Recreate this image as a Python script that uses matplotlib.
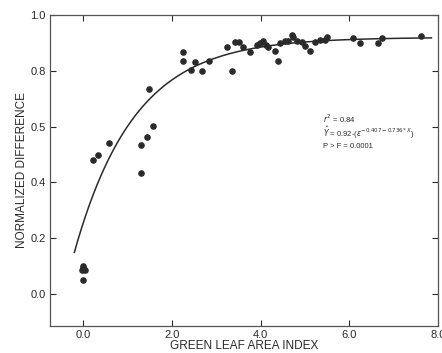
import numpy as np
import matplotlib.pyplot as plt

plt.rcParams['font.family'] = ['Liberation Sans', 'DejaVu Sans']

# green leaf area index vs normalized difference
lai = [0.00, -0.03, 0.04, 0.00, 0.00,
       0.21, 0.33, 0.58,
       1.31, 1.31, 1.43, 1.48, 1.58,
       2.24, 2.24, 2.42, 2.52, 2.67, 2.83,
       3.25, 3.35, 3.42, 3.51, 3.61, 3.77,
       3.91, 3.98, 4.06, 4.12, 4.17,
       4.32, 4.40, 4.44, 4.55, 4.62,
       4.70, 4.74, 4.81, 4.93, 5.00, 5.11,
       5.23, 5.34, 5.45, 5.49,
       6.09, 6.24, 6.65, 6.73, 7.62]
nd = [0.100, 0.085, 0.085, 0.092, 0.050,
      0.480, 0.497, 0.542,
      0.433, 0.533, 0.562, 0.734, 0.602,
      0.867, 0.834, 0.803, 0.832, 0.800, 0.836,
      0.886, 0.800, 0.903, 0.903, 0.886, 0.868,
      0.892, 0.899, 0.905, 0.892, 0.886,
      0.872, 0.835, 0.900, 0.905, 0.908,
      0.928, 0.922, 0.905, 0.904, 0.890, 0.871,
      0.904, 0.910, 0.910, 0.922,
      0.919, 0.900, 0.900, 0.916, 0.925]

# fitted model from the annotation
a, b0, b1 = 0.92, -0.407, -0.736
xfit = np.linspace(-0.2, 7.85, 200)
yfit = a - np.exp(b0 + b1 * xfit)

xticks = [0, 2, 4, 6, 8]
xlabels = ['0.0', '2.0', '4.0', '6.0', '8.0']
yticks = [0.0, 0.2, 0.4, 0.6, 0.8, 1.0]
ylabels = ['0.0', '0.2', '0.4', '0.5', '0.8', '1.0']

fig = plt.figure(figsize=(4.42, 3.53), dpi=100)
ax = fig.add_axes([0.113, 0.0765, 0.878, 0.881])
ink = '#2a2a2a'

ax.plot(xfit, yfit, color=ink, lw=1.1)
ax.scatter(lai, nd, s=14, color=ink, zorder=3)

ax.set_xlim(-0.75, 8.0)
ax.set_ylim(-0.115, 1.0)
ax.set_xticks(xticks)
ax.set_xticklabels(xlabels)
ax.set_yticks(yticks)
ax.set_yticklabels(ylabels)
ax.tick_params(direction='in', top=True, right=True, length=4, width=0.8,
               labelsize=8, colors=ink, pad=3)
for s in ax.spines.values():
    s.set_color('#555555')
    s.set_linewidth(0.9)

ax.set_xlabel('GREEN LEAF AREA INDEX', fontsize=8.5, color=ink, labelpad=0)
ax.set_ylabel('NORMALIZED DIFFERENCE', fontsize=8.5, color=ink, labelpad=2)

ax.text(5.4, 0.628, r'$r^2$ = 0.84', fontsize=5.5, color=ink, va='center')
ax.text(5.4, 0.577, r'$\hat{Y}$ = 0.92-($\epsilon^{-0.407-0.736*X}$)',
        fontsize=5.5, color=ink, va='center')
ax.text(5.4, 0.530, 'P > F = 0.0001', fontsize=5.5, color=ink, va='center')

fig.savefig('out.png', dpi=100)
